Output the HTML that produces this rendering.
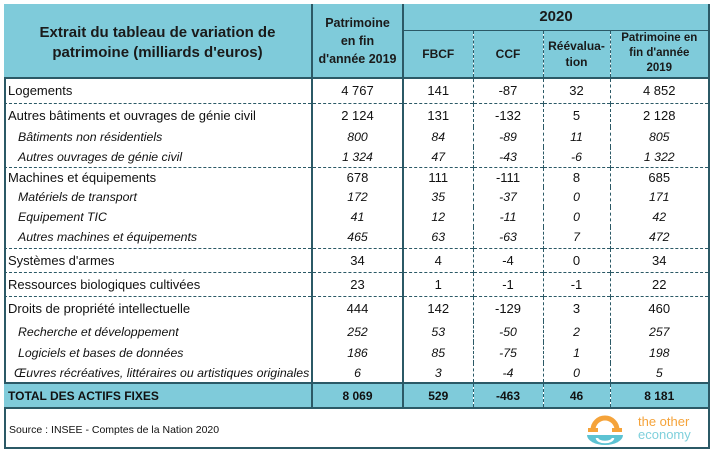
<!DOCTYPE html>
<html><head><meta charset="utf-8"><style>
body{margin:0;background:#fff;width:713px;height:455px;position:relative;font-family:"Liberation Sans",Arial,sans-serif;color:#111}
.box{position:absolute;left:4px;top:4px;width:702px;height:441px;border:2px solid #2b5966;box-sizing:content-box}
table{position:absolute;left:4px;top:4px;border-collapse:collapse;width:704px;table-layout:fixed;font-size:13px}
td{padding:0;overflow:hidden;white-space:nowrap;text-align:center}
td.l{text-align:left;padding-left:4px}
td.i{font-style:italic;font-size:12.3px}
td.l.i{padding-left:14px}
.h td{background:#7fcbda;font-weight:bold;color:#1a1a1a}
.c1{border-right:2px solid #2b5966}
.c2{border-right:2px solid #2b5966}
.d{border-right:1px dashed #2b5966}
tr.sep td{border-top:1px dashed #2b5966}
tr.tot td{background:#7fcbda;font-weight:bold;border-top:2px solid #2b5966;border-bottom:2px solid #2b5966;font-size:12px}
</style></head><body>
<div class="box"></div>
<table>
<colgroup><col style="width:308px"><col style="width:91px"><col style="width:70px"><col style="width:70px"><col style="width:67px"><col style="width:98px"></colgroup>
<tr class="h" style="height:26px"><td rowspan="2" class="c1" style="font-size:15px;line-height:20px;border-bottom:2px solid #2b5966;padding-top:4px">Extrait du tableau de variation de<br>patrimoine (milliards d'euros)</td><td rowspan="2" class="c2" style="line-height:18px;font-size:12.5px;border-bottom:2px solid #2b5966">Patrimoine<br>en fin<br>d'année 2019</td><td colspan="4" style="font-size:15px;border-bottom:1px solid #2b5966">2020</td></tr>
<tr class="h" style="height:48px;font-size:12px"><td class="d" style="border-bottom:2px solid #2b5966">FBCF</td><td class="d" style="border-bottom:2px solid #2b5966">CCF</td><td class="d" style="line-height:16px;border-bottom:2px solid #2b5966">Réévalua-<br>tion</td><td style="line-height:15px;font-size:11.5px;border-bottom:2px solid #2b5966">Patrimoine en<br>fin d'année<br>2019</td></tr>
<tr style="height:25px"><td class="l c1">Logements</td><td class="c2">4 767</td><td class="d">141</td><td class="d">-87</td><td class="d">32</td><td>4 852</td></tr>
<tr class="sep" style="height:24px"><td class="l c1">Autres bâtiments et ouvrages de génie civil</td><td class="c2">2 124</td><td class="d">131</td><td class="d">-132</td><td class="d">5</td><td>2 128</td></tr>
<tr style="height:20px"><td class="l i c1">Bâtiments non résidentiels</td><td class="i c2">800</td><td class="i d">84</td><td class="i d">-89</td><td class="i d">11</td><td class="i">805</td></tr>
<tr style="height:20px"><td class="l i c1">Autres ouvrages de génie civil</td><td class="i c2">1 324</td><td class="i d">47</td><td class="i d">-43</td><td class="i d">-6</td><td class="i">1 322</td></tr>
<tr class="sep" style="height:20px"><td class="l c1">Machines et équipements</td><td class="c2">678</td><td class="d">111</td><td class="d">-111</td><td class="d">8</td><td>685</td></tr>
<tr style="height:20px"><td class="l i c1">Matériels de transport</td><td class="i c2">172</td><td class="i d">35</td><td class="i d">-37</td><td class="i d">0</td><td class="i">171</td></tr>
<tr style="height:20px"><td class="l i c1">Equipement TIC</td><td class="i c2">41</td><td class="i d">12</td><td class="i d">-11</td><td class="i d">0</td><td class="i">42</td></tr>
<tr style="height:21px"><td class="l i c1">Autres machines et équipements</td><td class="i c2">465</td><td class="i d">63</td><td class="i d">-63</td><td class="i d">7</td><td class="i">472</td></tr>
<tr class="sep" style="height:24px"><td class="l c1">Systèmes d'armes</td><td class="c2">34</td><td class="d">4</td><td class="d">-4</td><td class="d">0</td><td>34</td></tr>
<tr class="sep" style="height:24px"><td class="l c1">Ressources biologiques cultivées</td><td class="c2">23</td><td class="d">1</td><td class="d">-1</td><td class="d">-1</td><td>22</td></tr>
<tr class="sep" style="height:25px"><td class="l c1">Droits de propriété intellectuelle</td><td class="c2">444</td><td class="d">142</td><td class="d">-129</td><td class="d">3</td><td>460</td></tr>
<tr style="height:21px"><td class="l i c1">Recherche et développement</td><td class="i c2">252</td><td class="i d">53</td><td class="i d">-50</td><td class="i d">2</td><td class="i">257</td></tr>
<tr style="height:21px"><td class="l i c1">Logiciels et bases de données</td><td class="i c2">186</td><td class="i d">85</td><td class="i d">-75</td><td class="i d">1</td><td class="i">198</td></tr>
<tr style="height:20px"><td class="l i c1" style="padding-left:10px">Œuvres récréatives, littéraires ou artistiques originales</td><td class="i c2">6</td><td class="i d">3</td><td class="i d">-4</td><td class="i d">0</td><td class="i">5</td></tr>
<tr class="tot" style="height:25px"><td class="l c1">TOTAL DES ACTIFS FIXES</td><td class="c2">8 069</td><td class="d">529</td><td class="d">-463</td><td class="d">46</td><td>8 181</td></tr>
</table>
<div style="position:absolute;left:9px;top:424px;font-size:10.5px">Source : INSEE - Comptes de la Nation 2020</div>
<svg style="position:absolute;left:585px;top:414px" width="40" height="32" viewBox="0 0 40 32">
<path d="M8 16 A12 12 0 0 1 32 16" fill="none" stroke="#f5a33a" stroke-width="5"/>
<rect x="3" y="14" width="10" height="4" fill="#f5a33a"/><rect x="27" y="14" width="10" height="4" fill="#f5a33a"/>
<path d="M2 21 H38 A18 10 0 0 1 2 21 Z" fill="#5cc3d3"/>
<path d="M12 24 A8 4 0 0 0 28 24" fill="none" stroke="#fff" stroke-width="2.5"/>
</svg>
<div style="position:absolute;left:638px;top:415px;font-size:13px;line-height:13px;color:#f5a33a">the other</div>
<div style="position:absolute;left:638px;top:428px;font-size:13px;line-height:13px;color:#7fd0dc">economy</div>
</body></html>
